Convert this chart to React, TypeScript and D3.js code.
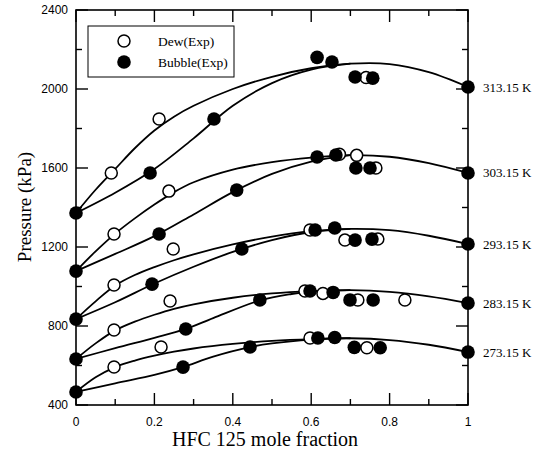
import React from "react";
import * as d3 from "d3";

type Pt = [number, number];

const temps: string[] = ["313.15 K", "303.15 K", "293.15 K", "283.15 K", "273.15 K"];

const xTicks: number[] = [0, 0.2, 0.4, 0.6, 0.8, 1];
const xTickLabels: string[] = ["0", "0.2", "0.4", "0.6", "0.8", "1"];
const xMinor: number[] = [0.1, 0.3, 0.5, 0.7, 0.9];
const yTicks: number[] = [400, 800, 1200, 1600, 2000, 2400];
const yMinor: number[] = [600, 1000, 1400, 1800, 2200];

// Experimental points
const bubble313: Pt[] = [[0, 1372], [0.189, 1575], [0.352, 1848], [0.615, 2160], [0.653, 2137], [0.712, 2061], [0.757, 2055], [1, 2010]];
const dew313: Pt[] = [[0.09, 1575], [0.212, 1848], [0.74, 2058]];
const bubble303: Pt[] = [[0, 1078], [0.212, 1266], [0.41, 1488], [0.615, 1656], [0.663, 1666], [0.714, 1600], [0.75, 1600], [1, 1575]];
const dew303: Pt[] = [[0.097, 1266], [0.237, 1483], [0.672, 1670], [0.716, 1664], [0.765, 1600]];
const bubble293: Pt[] = [[0, 835], [0.194, 1012], [0.423, 1190], [0.61, 1286], [0.66, 1296], [0.712, 1235], [0.755, 1240], [1, 1215]];
const dew293: Pt[] = [[0.097, 1008], [0.248, 1190], [0.597, 1286], [0.686, 1235], [0.77, 1240]];
const bubble283: Pt[] = [[0, 633], [0.28, 785], [0.469, 932], [0.597, 977], [0.656, 970], [0.699, 932], [0.758, 932], [1, 916]];
const dew283: Pt[] = [[0.097, 780], [0.24, 927], [0.584, 977], [0.63, 965], [0.719, 932], [0.839, 932]];
const bubble273: Pt[] = [[0, 466], [0.273, 592], [0.444, 694], [0.617, 739], [0.66, 742], [0.71, 692], [0.776, 690], [1, 668]];
const dew273: Pt[] = [[0.097, 592], [0.217, 694], [0.597, 739], [0.742, 690]];

// Calculated curves
const dewLine313: Pt[] = [[0, 1372], [0.05, 1490], [0.1, 1595], [0.15, 1700], [0.2, 1790], [0.25, 1860], [0.3, 1915], [0.4, 2000], [0.5, 2062], [0.6, 2105], [0.7, 2128], [0.8, 2126], [0.9, 2085], [1, 2010]];
const bubLine313: Pt[] = [[0, 1372], [0.1, 1475], [0.2, 1595], [0.3, 1750], [0.4, 1915], [0.5, 2030], [0.6, 2098], [0.7, 2128]];
const dewLine303: Pt[] = [[0, 1078], [0.05, 1178], [0.1, 1268], [0.15, 1345], [0.2, 1415], [0.25, 1478], [0.3, 1528], [0.4, 1592], [0.5, 1630], [0.6, 1653], [0.7, 1665], [0.8, 1657], [0.9, 1625], [1, 1575]];
const bubLine303: Pt[] = [[0, 1078], [0.1, 1165], [0.2, 1255], [0.3, 1365], [0.4, 1478], [0.5, 1570], [0.6, 1632], [0.7, 1665]];
const dewLine293: Pt[] = [[0, 835], [0.05, 925], [0.1, 1005], [0.15, 1058], [0.2, 1098], [0.25, 1133], [0.3, 1163], [0.4, 1213], [0.5, 1253], [0.6, 1280], [0.7, 1292], [0.8, 1285], [0.9, 1257], [1, 1215]];
const bubLine293: Pt[] = [[0, 835], [0.1, 920], [0.2, 1015], [0.3, 1100], [0.4, 1175], [0.5, 1235], [0.6, 1276], [0.7, 1292]];
const dewLine283: Pt[] = [[0, 633], [0.05, 712], [0.1, 778], [0.15, 822], [0.2, 857], [0.25, 887], [0.3, 910], [0.4, 943], [0.5, 965], [0.6, 977], [0.7, 982], [0.8, 973], [0.9, 950], [1, 916]];
const bubLine283: Pt[] = [[0, 633], [0.1, 688], [0.2, 740], [0.28, 785], [0.35, 840], [0.47, 930], [0.55, 962], [0.6, 974], [0.7, 982]];
const dewLine273: Pt[] = [[0, 466], [0.05, 540], [0.1, 592], [0.15, 625], [0.2, 650], [0.25, 670], [0.3, 686], [0.4, 709], [0.5, 725], [0.6, 734], [0.7, 738], [0.8, 729], [0.9, 705], [1, 668]];
const bubLine273: Pt[] = [[0, 466], [0.1, 510], [0.2, 552], [0.27, 590], [0.35, 645], [0.44, 692], [0.5, 712], [0.6, 731], [0.7, 738]];

const dewSets = [dew313, dew303, dew293, dew283, dew273];
const bubbleSets = [bubble313, bubble303, bubble293, bubble283, bubble273];
const dewLines = [dewLine313, dewLine303, dewLine293, dewLine283, dewLine273];
const bubLines = [bubLine313, bubLine303, bubLine293, bubLine283, bubLine273];
const endValues = [2010, 1575, 1215, 916, 668];

const W = 533;
const H = 455;
const L = 76, R = 468, T = 10, B = 405;

export default function App() {
  const x = d3.scaleLinear().domain([0, 1]).range([L, R]);
  const y = d3.scaleLinear().domain([400, 2400]).range([B, T]);
  const line = d3
    .line<Pt>()
    .x((d) => x(d[0]))
    .y((d) => y(d[1]))
    .curve(d3.curveCatmullRom.alpha(0.5));

  const sans = "'Liberation Sans', Arial, sans-serif";
  const serif = "'Liberation Serif', 'Times New Roman', serif";
  const majLen = 12;
  const minLen = 6;

  return (
    <svg width={W} height={H} style={{ position: "absolute", left: 0, top: 0, background: "#fff" }}>
      <rect x={0} y={0} width={W} height={H} fill="#fff" />
      {/* ticks */}
      <g stroke="#000" strokeWidth={1.4}>
        {xTicks.map((t) => (
          <g key={"xt" + t}>
            <line x1={x(t)} x2={x(t)} y1={B} y2={B - majLen} />
            <line x1={x(t)} x2={x(t)} y1={T} y2={T + majLen} />
          </g>
        ))}
        {xMinor.map((t) => (
          <g key={"xm" + t}>
            <line x1={x(t)} x2={x(t)} y1={B} y2={B - minLen} />
            <line x1={x(t)} x2={x(t)} y1={T} y2={T + minLen} />
          </g>
        ))}
        {yTicks.map((t) => (
          <g key={"yt" + t}>
            <line x1={L} x2={L + majLen} y1={y(t)} y2={y(t)} />
            <line x1={R} x2={R - majLen} y1={y(t)} y2={y(t)} />
          </g>
        ))}
        {yMinor.map((t) => (
          <g key={"ym" + t}>
            <line x1={L} x2={L + minLen} y1={y(t)} y2={y(t)} />
            <line x1={R} x2={R - minLen} y1={y(t)} y2={y(t)} />
          </g>
        ))}
      </g>
      <rect x={L} y={T} width={R - L} height={B - T} fill="none" stroke="#000" strokeWidth={1.6} />

      {/* tick labels */}
      {xTicks.map((t, i) => (
        <text key={"xl" + t} x={x(t)} y={426} textAnchor="middle" fontFamily={sans} fontSize={12} fill="#000">
          {xTickLabels[i]}
        </text>
      ))}
      {yTicks.map((t) => (
        <text key={"yl" + t} x={68} y={y(t) + 4} textAnchor="end" fontFamily={sans} fontSize={12} fill="#000">
          {t}
        </text>
      ))}

      {/* axis titles */}
      <text x={265} y={446} textAnchor="middle" fontFamily={serif} fontSize={20} fill="#000">
        HFC 125 mole fraction
      </text>
      <text transform={`translate(31,207) rotate(-90)`} textAnchor="middle" fontFamily={serif} fontSize={19} fill="#000">
        Pressure  (kPa)
      </text>

      {/* curves */}
      <g fill="none" stroke="#000" strokeWidth={1.8}>
        {dewLines.map((d, i) => (
          <path key={"dl" + i} d={line(d) || ""} />
        ))}
        {bubLines.map((d, i) => (
          <path key={"bl" + i} d={line(d) || ""} />
        ))}
      </g>

      {/* points */}
      {dewSets.map((set, i) => (
        <g key={"ds" + i}>
          {set.map((p, j) => (
            <circle key={j} cx={x(p[0])} cy={y(p[1])} r={6} fill="#fff" stroke="#000" strokeWidth={1.5} />
          ))}
        </g>
      ))}
      {bubbleSets.map((set, i) => (
        <g key={"bs" + i}>
          {set.map((p, j) => (
            <circle key={j} cx={x(p[0])} cy={y(p[1])} r={6.8} fill="#000" />
          ))}
        </g>
      ))}

      {/* temperature labels */}
      {temps.map((t, i) => (
        <text key={t} x={483} y={y(endValues[i]) + 4.5} fontFamily={serif} fontSize={13} fill="#000">
          {t}
        </text>
      ))}

      {/* legend */}
      <rect x={88} y={26} width={146} height={51} fill="#fff" stroke="#000" strokeWidth={1} />
      <circle cx={124} cy={41} r={6} fill="#fff" stroke="#000" strokeWidth={1.5} />
      <circle cx={124} cy={62} r={6.8} fill="#000" />
      <text x={158} y={45.5} fontFamily={serif} fontSize={13.5} fill="#000">
        Dew(Exp)
      </text>
      <text x={158} y={66.5} fontFamily={serif} fontSize={13.5} fill="#000">
        Bubble(Exp)
      </text>
    </svg>
  );
}
